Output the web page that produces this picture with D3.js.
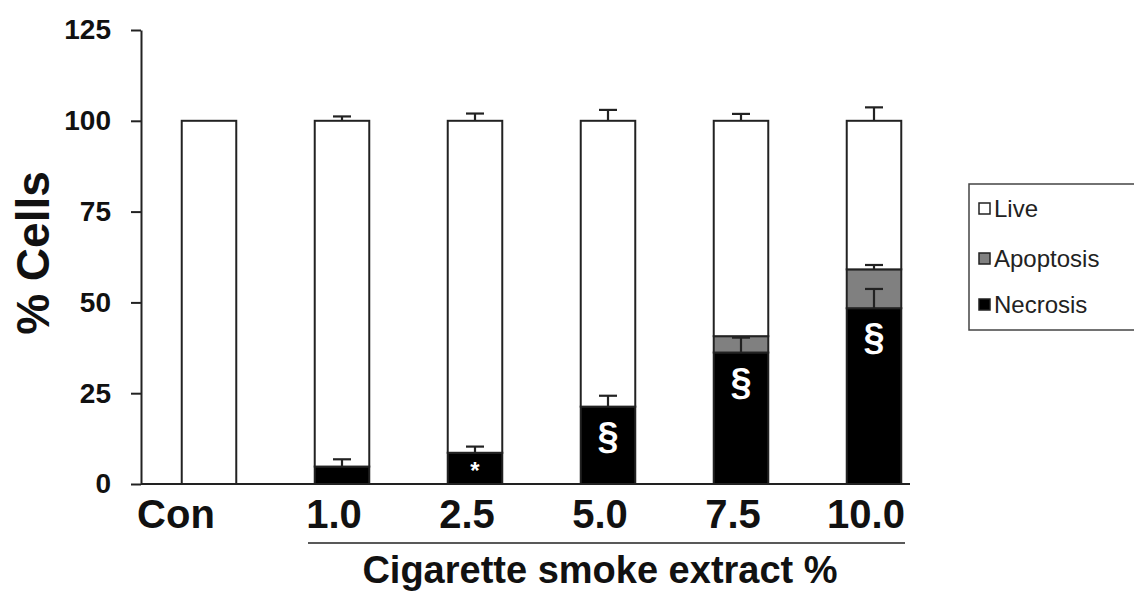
<!DOCTYPE html>
<html lang="en">
<head>
  <meta charset="utf-8">
  <title>Cell death vs cigarette smoke extract</title>
  <script src="https://d3js.org/d3.v7.min.js"></script>
  <style>
    body { margin: 0; background: #fff; }
    svg { font-family: "Liberation Sans", Arial, sans-serif; }
    .axis path, .axis line { stroke: #222; stroke-width: 2px; }
    .axis text { font-weight: bold; fill: #111; }
  </style>
</head>
<body>
<div id="chart"></div>
<script>
"use strict"

// data
var categories = ["Con", "1.0", "2.5", "5.0", "7.5", "10.0"];
var necrosis  = [0, 4.8, 8.6, 21.3, 36.2, 48.4];
var apoptosis = [0, 0, 0, 0, 4.5, 10.7];
var live      = [100, 95.2, 91.4, 78.7, 59.3, 40.9];
var liveErr   = [0, 1.2, 2.0, 3.0, 1.9, 3.7];
var necErr    = [0, 2.0, 1.7, 3.0, 4.1, 5.3];
var apoErr    = [0, 0, 0, 0, 0, 1.2];
var marks     = ["", "", "*", "\u00a7", "\u00a7", "\u00a7"];
var yTicks    = [0, 25, 50, 75, 100, 125];
var legendLabels = ["Live", "Apoptosis", "Necrosis"];

var W = 1134, H = 592;
var colours = { necrosis: "#000", apoptosis: "#808080", live: "#fff" };

var svg = d3.select("#chart").append("svg")
  .attr("width", W).attr("height", H);

var x = d3.scaleBand()
  .domain(categories)
  .range([142.5, 940.5])
  .paddingInner(0.59)
  .paddingOuter(0.295);

var y = d3.scaleLinear()
  .domain([0, 125])
  .range([484, 30]);

var rows = categories.map(function(c, i) {
  return { cat: c, necrosis: necrosis[i], apoptosis: apoptosis[i], live: live[i], i: i };
});

var stack = d3.stack().keys(["necrosis", "apoptosis", "live"]);
var series = stack(rows);

// bars
series.forEach(function(s) {
  svg.append("g").selectAll("rect")
    .data(s.filter(function(d) { return d[1] - d[0] > 0; }))
    .enter().append("rect")
      .attr("x", function(d) { return x(d.data.cat); })
      .attr("y", function(d) { return y(d[1]); })
      .attr("width", x.bandwidth())
      .attr("height", function(d) { return y(d[0]) - y(d[1]); })
      .attr("fill", colours[s.key])
      .attr("stroke", "#222")
      .attr("stroke-width", 2);
});

// error bars (upward only)
function errBars(top, err) {
  var g = svg.append("g").attr("stroke", "#222").attr("stroke-width", 2.2);
  rows.forEach(function(d, i) {
    if (!err[i]) return;
    var cx = x(d.cat) + x.bandwidth() / 2;
    g.append("line").attr("x1", cx).attr("x2", cx)
      .attr("y1", y(top[i])).attr("y2", y(top[i] + err[i]));
    g.append("line").attr("x1", cx - 9).attr("x2", cx + 9)
      .attr("y1", y(top[i] + err[i])).attr("y2", y(top[i] + err[i]));
  });
}
errBars(necrosis, necErr);
errBars(necrosis.map(function(v, i) { return v + apoptosis[i]; }), apoErr);
errBars(necrosis.map(function(v, i) { return v + apoptosis[i] + live[i]; }), liveErr);

// significance marks
svg.append("g").selectAll("text")
  .data(rows.filter(function(d) { return marks[d.i]; }))
  .enter().append("text")
    .attr("x", function(d) { return x(d.cat) + x.bandwidth() / 2; })
    .attr("y", function(d) {
      return marks[d.i] === "*" ? y(necrosis[d.i]) + 26 : y(necrosis[d.i]) + 42;
    })
    .attr("text-anchor", "middle")
    .attr("fill", "#fff")
    .attr("font-weight", "bold")
    .attr("font-size", function(d) { return marks[d.i] === "*" ? "24px" : "38px"; })
    .text(function(d) { return marks[d.i]; });

// y axis
var yAxis = svg.append("g")
  .attr("class", "axis")
  .attr("transform", "translate(141,0)")
  .call(d3.axisLeft(y).tickValues(yTicks).tickSize(10).tickPadding(20).tickSizeOuter(0));
yAxis.selectAll("text").attr("font-size", "28px");

// x axis line
svg.append("line")
  .attr("x1", 141).attr("x2", 910)
  .attr("y1", y(0)).attr("y2", y(0))
  .attr("stroke", "#222").attr("stroke-width", 2);

// x labels
svg.append("g").selectAll("text")
  .data(categories)
  .enter().append("text")
    .attr("x", function(d) { return x(d) + x.bandwidth() / 2 + (d === "Con" ? -33 : -8); })
    .attr("y", 528)
    .attr("text-anchor", "middle")
    .attr("font-weight", "bold")
    .attr("font-size", "40px")
    .attr("fill", "#111")
    .text(function(d) { return d; });

// underline for CSE doses
svg.append("line")
  .attr("x1", 308).attr("x2", 905)
  .attr("y1", 543).attr("y2", 543)
  .attr("stroke", "#222").attr("stroke-width", 1.5);

svg.append("text")
  .attr("x", 600).attr("y", 583)
  .attr("text-anchor", "middle")
  .attr("font-weight", "bold")
  .attr("font-size", "38px")
  .attr("fill", "#111")
  .text("Cigarette smoke extract %");

svg.append("text")
  .attr("transform", "translate(49,253) rotate(-90)")
  .attr("text-anchor", "middle")
  .attr("font-weight", "bold")
  .attr("font-size", "46px")
  .attr("fill", "#111")
  .text("% Cells");

// legend
var lg = svg.append("g");
lg.append("rect")
  .attr("x", 969).attr("y", 184)
  .attr("width", 200).attr("height", 146)
  .attr("fill", "#fff").attr("stroke", "#444").attr("stroke-width", 1.5);
var legendFill = ["#fff", "#808080", "#000"];
var legendY = [209, 259, 305];
legendLabels.forEach(function(t, i) {
  lg.append("rect")
    .attr("x", 979).attr("y", legendY[i] - 6)
    .attr("width", 11).attr("height", 11)
    .attr("fill", legendFill[i]).attr("stroke", "#222").attr("stroke-width", 1.5);
  lg.append("text")
    .attr("x", 994).attr("y", legendY[i] + 8)
    .attr("font-size", "24px")
    .attr("fill", "#222")
    .text(t);
});
</script>
</body>
</html>
